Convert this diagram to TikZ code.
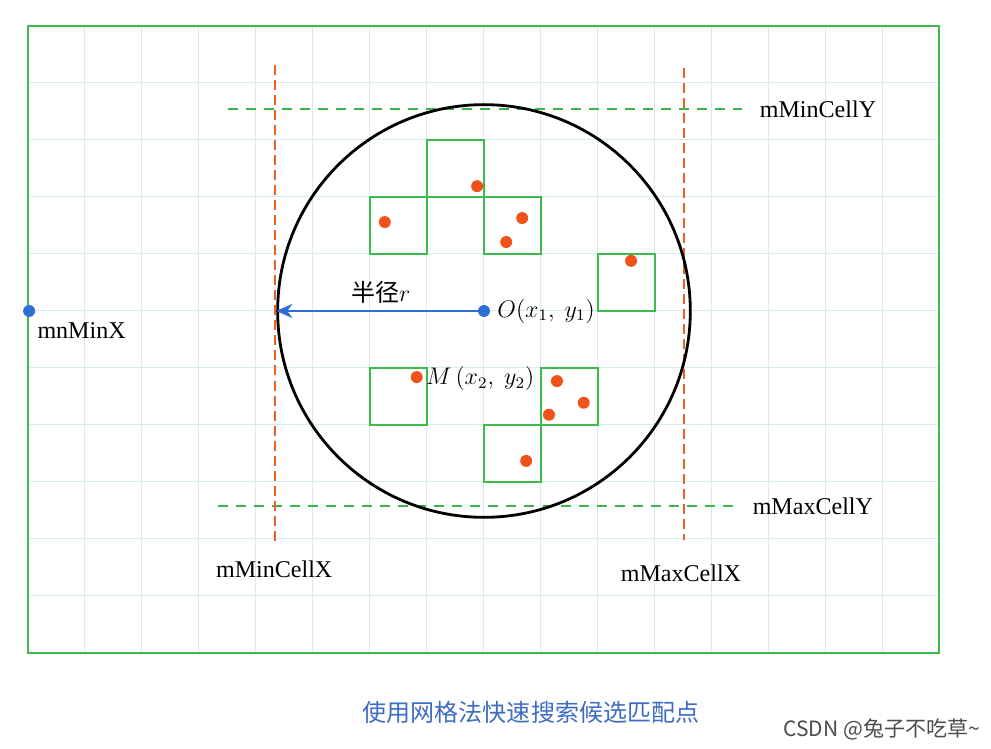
\documentclass[tikz,border=0pt]{standalone}
\usepackage{fontspec}
\setmainfont{Liberation Serif}
\newfontfamily\cjk{Noto Sans CJK SC}
\usetikzlibrary{arrows.meta}
\definecolor{gridc}{HTML}{D6ECEF}
\definecolor{boxg}{HTML}{3DBB4E}
\definecolor{dashg}{HTML}{3DB54A}
\definecolor{dasho}{HTML}{EE5F22}
\definecolor{ptred}{HTML}{F0521A}
\definecolor{blueA}{HTML}{2E6FD6}
\definecolor{capblue}{HTML}{3D6CC4}
\begin{document}
\begin{tikzpicture}[x=1cm,y=1cm,
  font=\fontsize{12}{14}\selectfont,
  cellbox/.style={draw=boxg, line width=1.1pt},
  ptdot/.style={circle, fill=ptred, inner sep=0pt, minimum size=0.21cm},
  bluedot/.style={circle, fill=blueA, inner sep=0pt, minimum size=0.21cm},
  gdash/.style={draw=dashg, line width=1.3pt, dash pattern=on 5pt off 4pt},
  odash/.style={draw=dasho, line width=1.3pt, dash pattern=on 5pt off 2.5pt},
  lbl/.style={inner sep=0pt, text=black}]
\useasboundingbox (-8.491,-7.667) rectangle (8.895,5.456);
\fill[white] (-8.491,-7.667) rectangle (8.895,5.456);
% grid and border
\draw[gridc, line width=0.5pt] (-8,-6) grid (8,5);
\draw[boxg, line width=1pt] (-8,-6) rectangle (7.98,5);
% candidate cells
\foreach \a/\b in {-1/2,-2/1,0/1,2/0,-2/-2,1/-2,0/-3}
  \draw[cellbox] (\a,\b) rectangle ++(1,1);
% points
\node[ptdot] (p1) at (-0.12,2.19) {};
\node[ptdot] (p2) at (-1.74,1.56) {};
\node[ptdot] (p3) at (0.67,1.63) {};
\node[ptdot] (p4) at (0.39,1.21) {};
\node[ptdot] (p5) at (2.58,0.88) {};
\node[ptdot] (pM) at (-1.18,-1.16) {};
\node[ptdot] (p7) at (1.28,-1.23) {};
\node[ptdot] (p8) at (1.75,-1.61) {};
\node[ptdot] (p9) at (1.14,-1.82) {};
\node[ptdot] (p10) at (0.74,-2.63) {};
% dashed bounds
\coordinate (minxT) at (-3.667,4.316);
\coordinate (minxB) at (-3.667,-4.105);
\coordinate (maxxT) at (3.509,4.26);
\coordinate (maxxB) at (3.509,-4.02);
\coordinate (minyL) at (-4.49,3.544);
\coordinate (minyR) at (4.526,3.544);
\coordinate (maxyL) at (-4.667,-3.42);
\coordinate (maxyR) at (4.49,-3.42);
\draw[gdash] (minyL) -- (minyR);
\draw[gdash] (maxyL) -- (maxyR);
\draw[odash] (minxT) -- (minxB);
\draw[odash] (maxxT) -- (maxxB);
% circle
\node[draw=black, circle, line width=1.4pt, minimum size=7.24cm, inner sep=0pt] (circ) at (0,0) {};
% center and radius
\node[bluedot] (O) at (0,0) {};
\draw[blueA, line width=1.1pt, -{Stealth[length=8pt,width=7pt,inset=2.5pt]}] (O) -- (circ.west);
\node[lbl, anchor=west] (Olab) at (0.228,0) {$O(x_1,\ y_1)$};
\node[lbl, anchor=west] (Mlab) at (-1.02,-1.19) {$M\,(x_2,\ y_2)$};
\node[lbl] (rlab) at (-1.81,0.33) {{\cjk 半径}$r$};
% min x point
\node[bluedot] (mnx) at (-7.98,0) {};
\node[lbl, anchor=west] (mnxlab) at (-7.84,-0.35) {mnMinX};
% bound labels
\node[lbl] (minylab) at (5.86,3.544) {mMinCellY};
\node[lbl] (maxylab) at (5.77,-3.42) {mMaxCellY};
\node[lbl] (minxlab) at (-3.68,-4.54) {mMinCellX};
\node[lbl] (maxxlab) at (3.456,-4.6) {mMaxCellX};
% caption and watermark
\node[text=capblue, font=\cjk\fontsize{12}{14}\selectfont] (cap) at (0.825,-7.035) {使用网格法快速搜索候选匹配点};
\node[text=black!70, font=\cjk\fontsize{10.5}{13}\selectfont] (wm) at (6.98,-7.35) {CSDN @兔子不吃草\textasciitilde};
\end{tikzpicture}
\end{document}
